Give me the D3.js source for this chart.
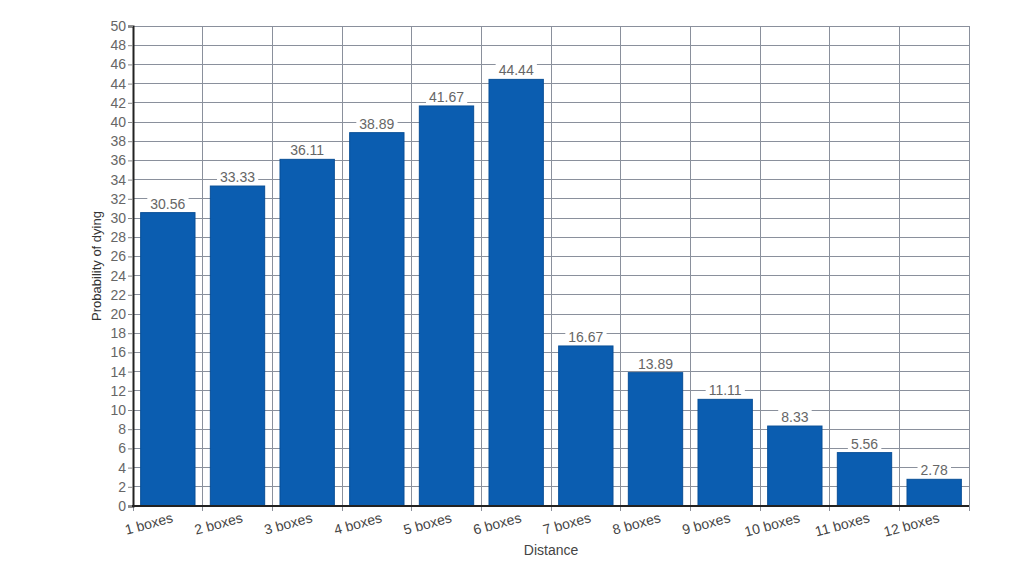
<!DOCTYPE html>
<html><head><meta charset="utf-8">
<script src="https://cdn.jsdelivr.net/npm/d3@7/dist/d3.min.js"></script>
<style>body{margin:0;background:#fff;}svg{display:block;font-family:Arial,"Liberation Sans",sans-serif;}</style>
</head><body><svg id="c" width="1024" height="576"></svg>
<script>
const categories = ["1 boxes","2 boxes","3 boxes","4 boxes","5 boxes","6 boxes","7 boxes","8 boxes","9 boxes","10 boxes","11 boxes","12 boxes"];
const values = [30.56,33.33,36.11,38.89,41.67,44.44,16.67,13.89,11.11,8.33,5.56,2.78];
const yTicks = d3.range(0,51,2);
const xTitle = "Distance", yTitle = "Probability of dying";

const svg = d3.select("#c");
const m = {l:133, r:969, t:26, b:506};
const x = d3.scaleBand().domain(categories).range([m.l,m.r]).paddingInner(0.22).paddingOuter(0.11);
const xb = d3.scaleBand().domain(categories).range([m.l,m.r]);
const y = d3.scaleLinear().domain([0,50]).range([m.b,m.t]);
const grid = "#8a909c";

// horizontal grid
svg.append("g").selectAll("line").data(yTicks).join("line")
  .attr("x1",m.l).attr("x2",m.r).attr("y1",d=>y(d)).attr("y2",d=>y(d))
  .attr("stroke",grid).attr("stroke-width",1).attr("shape-rendering","crispEdges");
// vertical grid at boundaries
const bounds = categories.map(c=>xb(c)).concat([m.r]);
svg.append("g").selectAll("line").data(bounds).join("line")
  .attr("x1",d=>d).attr("x2",d=>d).attr("y1",m.t).attr("y2",m.b+5)
  .attr("stroke",grid).attr("stroke-width",1).attr("shape-rendering","crispEdges");

// bars
svg.append("g").selectAll("rect").data(values).join("rect")
  .attr("x",(d,i)=>x(categories[i])).attr("width",x.bandwidth())
  .attr("y",d=>y(d)).attr("height",d=>m.b-y(d))
  .attr("fill","#0b5db0").attr("stroke","#094f97").attr("stroke-width",1);

// value labels
const lg = svg.append("g");
values.forEach((v,i)=>{
  const cx = x(categories[i]) + x.bandwidth()/2;
  const t = lg.append("text").attr("x",cx).attr("y",y(v)-4).attr("text-anchor","middle")
    .attr("font-size",14).attr("fill","#666").text(v.toFixed(2));
  const bb = t.node().getBBox();
  lg.insert("rect","text").attr("x",bb.x-3).attr("y",bb.y+1).attr("width",bb.width+6).attr("height",bb.height-2).attr("fill","#fff");
});

// axes
const ya = svg.append("g").attr("transform",`translate(${m.l},0)`)
  .call(d3.axisLeft(y).tickValues(yTicks).tickSize(5).tickPadding(2));
ya.select(".domain").attr("stroke","#222").attr("stroke-width",2);
ya.selectAll(".tick line").attr("stroke","#888");
ya.selectAll("text").attr("font-size",14).attr("fill","#666").attr("font-family","Arial,'Liberation Sans',sans-serif");

svg.append("line").attr("x1",m.l-1).attr("x2",m.r).attr("y1",m.b).attr("y2",m.b).attr("stroke","#222").attr("stroke-width",2);

// x labels
svg.append("g").selectAll("text").data(categories).join("text")
  .attr("transform",d=>`translate(${xb(d)+xb.bandwidth()/2+6},${m.b+16}) rotate(-15)`)
  .attr("text-anchor","end").attr("font-size",14).attr("fill","#444").text(d=>d);

svg.append("text").attr("x",551).attr("y",555).attr("text-anchor","middle").attr("font-size",14).attr("fill","#444").text(xTitle);
svg.append("text").attr("transform","translate(101,266) rotate(-90)").attr("text-anchor","middle").attr("font-size",13).attr("fill","#333").text(yTitle);
</script></body></html>
